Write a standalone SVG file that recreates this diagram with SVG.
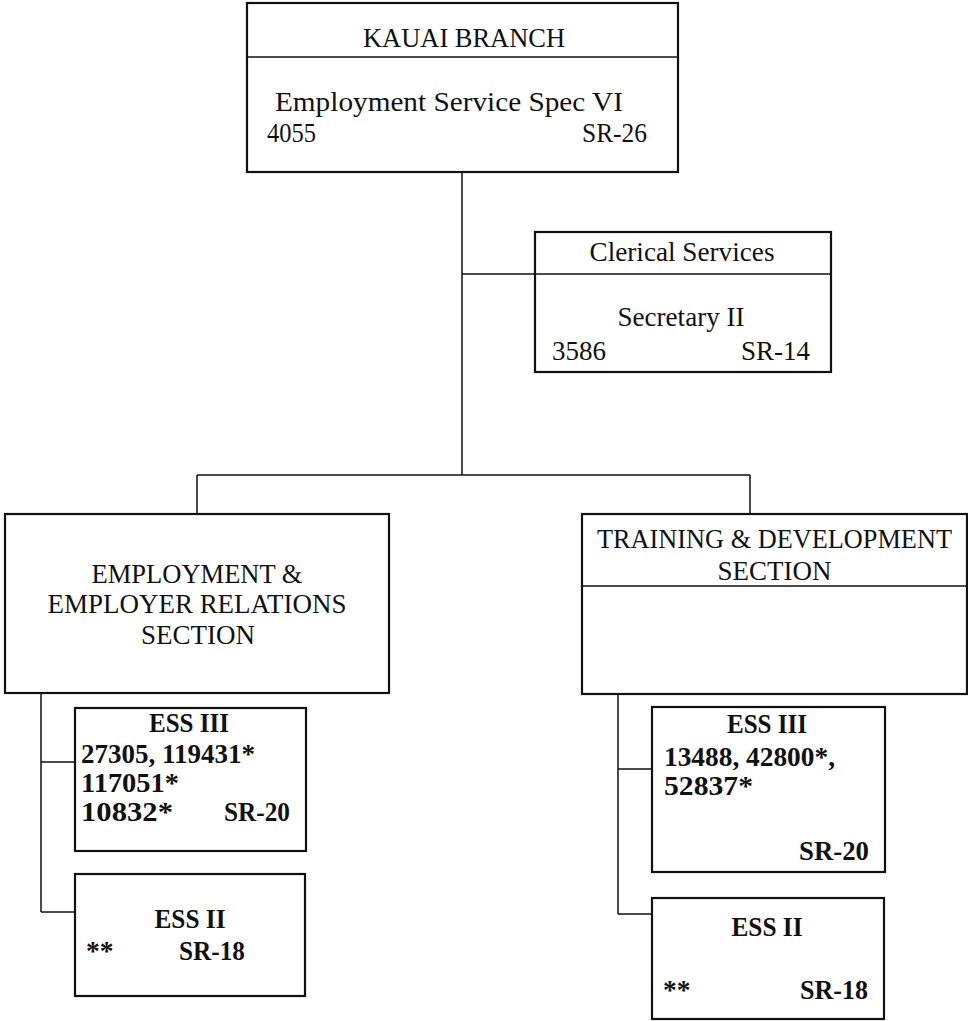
<svg xmlns="http://www.w3.org/2000/svg" width="968" height="1021" viewBox="0 0 968 1021">
<style>
.box{fill:#fff;stroke:#111;stroke-width:2.2}
.div{stroke:#111;stroke-width:1.5}
.con{fill:none;stroke:#111;stroke-width:1.5}
text{font-family:"Liberation Serif","Times New Roman",serif;font-size:27.5px;fill:#111}
.b{font-weight:bold}
.m{text-anchor:middle}
.e{text-anchor:end}
</style>
<rect width="968" height="1021" fill="#fff"/>
<g id="connectors">
<path class="con" d="M462,172 V475 M462,274 H535 M197,475 H750 M197,475 V514 M750,475 V514"/>
<path class="con" d="M41,693 V912 M41,762 H75 M41,912 H75"/>
<path class="con" d="M618,694 V914 M618,769 H652 M618,914 H652"/>
</g>
<g id="kauai-branch">
<rect class="box" x="247" y="3" width="431" height="169"/>
<line class="div" x1="247" y1="57" x2="678" y2="57"/>
<text class="m" x="464" y="47" textLength="202" lengthAdjust="spacingAndGlyphs">KAUAI BRANCH</text>
<text class="m" x="449" y="111" textLength="348" lengthAdjust="spacingAndGlyphs">Employment Service Spec VI</text>
<text x="267" y="142" textLength="49" lengthAdjust="spacingAndGlyphs">4055</text>
<text class="e" x="647" y="142" textLength="65" lengthAdjust="spacingAndGlyphs">SR-26</text>
</g>
<g id="clerical-services">
<rect class="box" x="535" y="232" width="296" height="140"/>
<line class="div" x1="535" y1="274" x2="831" y2="274"/>
<text class="m" x="682" y="261" textLength="185" lengthAdjust="spacingAndGlyphs">Clerical Services</text>
<text class="m" x="681" y="326" textLength="127" lengthAdjust="spacingAndGlyphs">Secretary II</text>
<text x="552" y="360" textLength="54" lengthAdjust="spacingAndGlyphs">3586</text>
<text class="e" x="810" y="360" textLength="69" lengthAdjust="spacingAndGlyphs">SR-14</text>
</g>
<g id="employment-section">
<rect class="box" x="5" y="514" width="384" height="179"/>
<text class="m" x="197" y="583" textLength="211" lengthAdjust="spacingAndGlyphs">EMPLOYMENT &amp;</text>
<text class="m" x="197" y="613" textLength="299" lengthAdjust="spacingAndGlyphs">EMPLOYER RELATIONS</text>
<text class="m" x="198" y="644" textLength="114" lengthAdjust="spacingAndGlyphs">SECTION</text>
</g>
<g id="training-section">
<rect class="box" x="582" y="514" width="385" height="180"/>
<line class="div" x1="582" y1="586" x2="967" y2="586"/>
<text class="m" x="774.5" y="548" textLength="355" lengthAdjust="spacingAndGlyphs">TRAINING &amp; DEVELOPMENT</text>
<text class="m" x="774.5" y="580" textLength="114" lengthAdjust="spacingAndGlyphs">SECTION</text>
</g>
<g id="left-ess-iii">
<rect class="box" x="75" y="708" width="231" height="143"/>
<text class="b m" x="189" y="732" textLength="80" lengthAdjust="spacingAndGlyphs">ESS III</text>
<text class="b" x="81" y="763" textLength="174" lengthAdjust="spacingAndGlyphs">27305, 119431*</text>
<text class="b" x="81" y="792" textLength="98" lengthAdjust="spacingAndGlyphs">117051*</text>
<text class="b" x="81" y="821" textLength="92" lengthAdjust="spacingAndGlyphs">10832*</text>
<text class="b e" x="290" y="821" textLength="66" lengthAdjust="spacingAndGlyphs">SR-20</text>
</g>
<g id="left-ess-ii">
<rect class="box" x="75" y="874" width="230" height="122"/>
<text class="b m" x="190" y="928" textLength="71" lengthAdjust="spacingAndGlyphs">ESS II</text>
<text class="b" x="86" y="960">**</text>
<text class="b e" x="245" y="960" textLength="66" lengthAdjust="spacingAndGlyphs">SR-18</text>
</g>
<g id="right-ess-iii">
<rect class="box" x="652" y="707" width="233" height="165"/>
<text class="b m" x="767" y="733" textLength="80" lengthAdjust="spacingAndGlyphs">ESS III</text>
<text class="b" x="664" y="766" textLength="171" lengthAdjust="spacingAndGlyphs">13488, 42800*,</text>
<text class="b" x="664" y="795" textLength="89" lengthAdjust="spacingAndGlyphs">52837*</text>
<text class="b e" x="869" y="860" textLength="70" lengthAdjust="spacingAndGlyphs">SR-20</text>
</g>
<g id="right-ess-ii">
<rect class="box" x="652" y="898" width="232" height="121"/>
<text class="b m" x="767" y="936" textLength="71" lengthAdjust="spacingAndGlyphs">ESS II</text>
<text class="b" x="663" y="999">**</text>
<text class="b e" x="868" y="999" textLength="68" lengthAdjust="spacingAndGlyphs">SR-18</text>
</g>
</svg>
